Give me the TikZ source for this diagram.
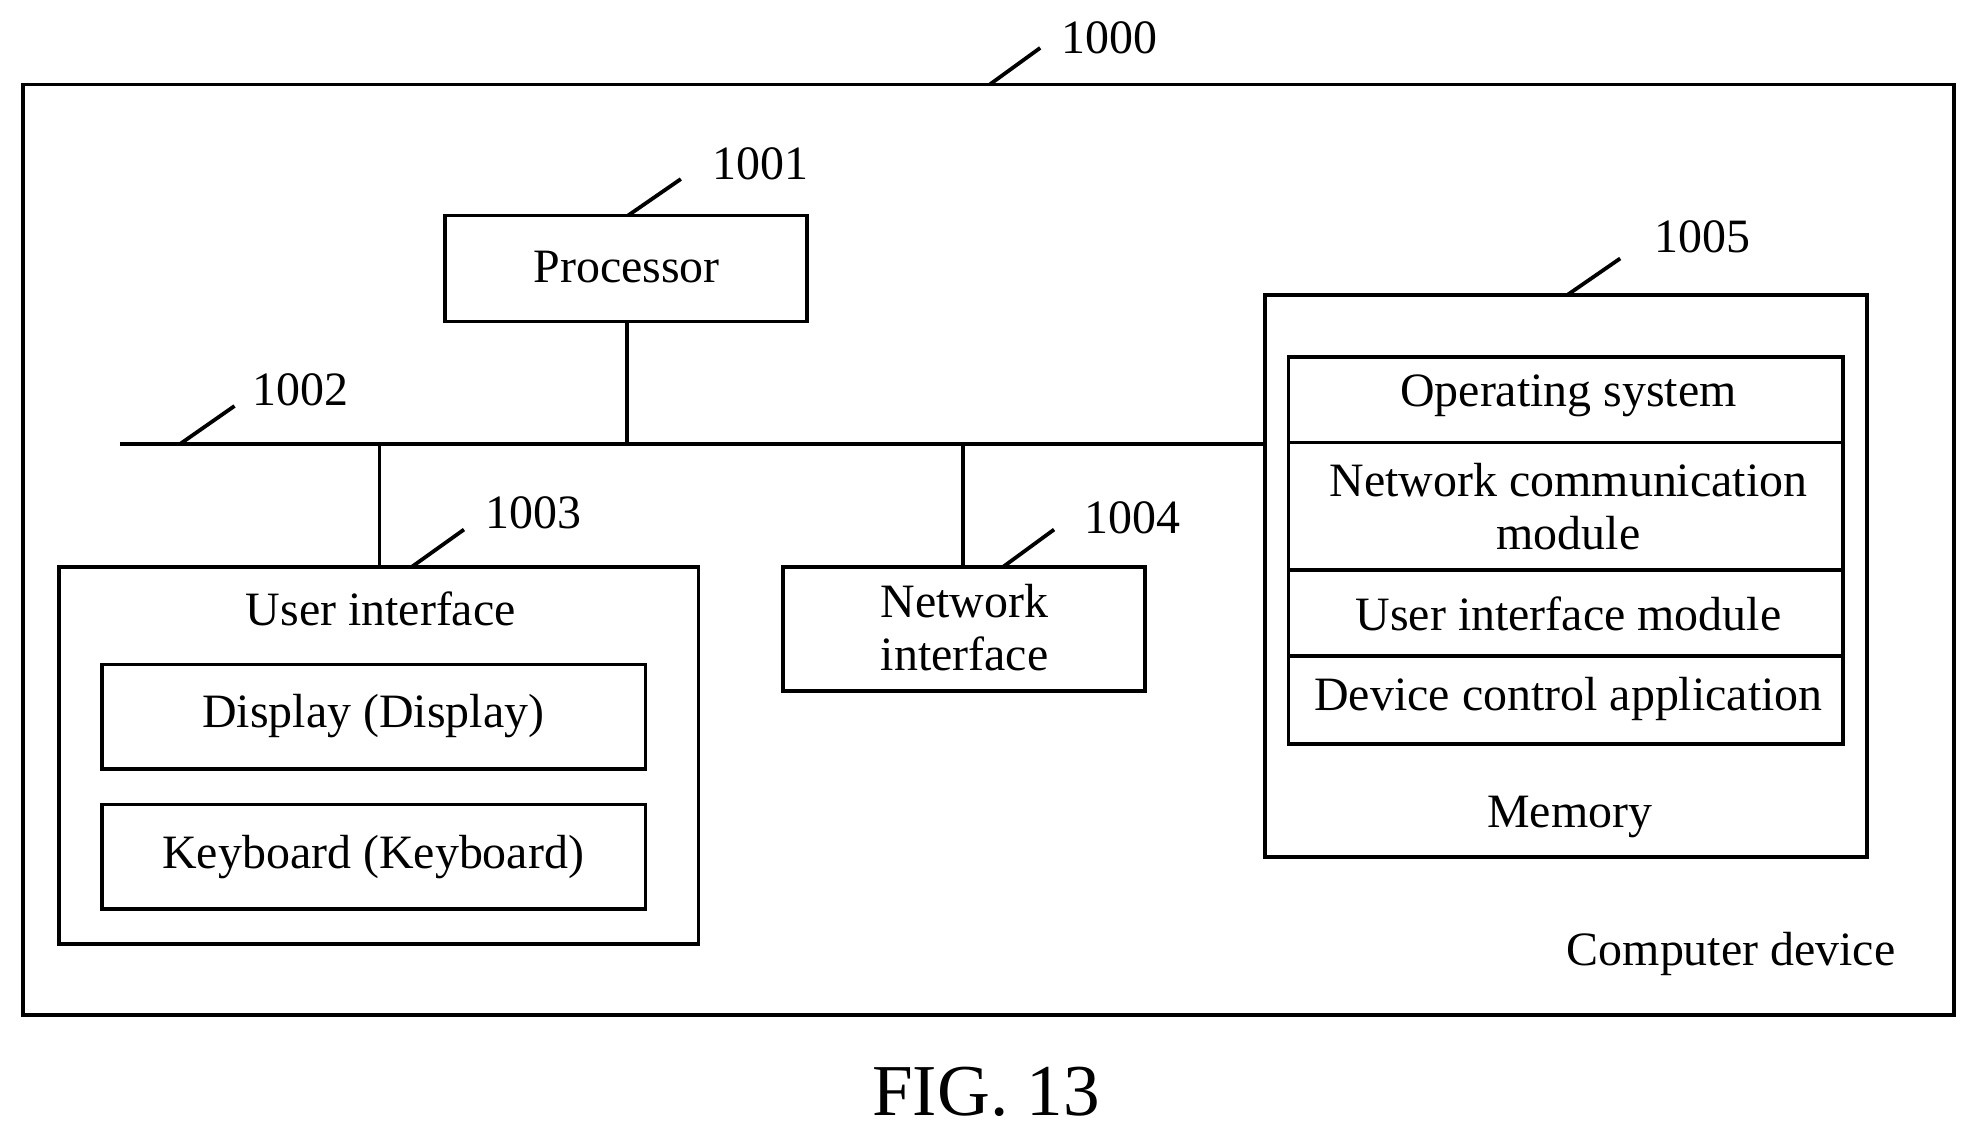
\documentclass[tikz,border=0pt]{standalone}
\usepackage{fontspec}
\setmainfont{Liberation Serif}
\begin{document}
\begin{tikzpicture}[x=0.5pt,y=-0.5pt,line width=1.5pt,
  box/.style={draw,line width=1.5pt},
  txt/.style={font=\fontsize{19}{21}\selectfont,align=center,inner sep=0pt},
  lab/.style={font=\fontsize{19}{21}\selectfont,inner sep=0pt}]
\useasboundingbox (0,0) rectangle (1568,903);
% outer
\draw[box] (18,67) rectangle (1550,805);
\node[lab] (l1000) at (880,30) {1000};
\coordinate (a0) at (785,67); \coordinate (b0) at (825,38);
\draw (a0) -- (b0);
\node[txt] (cd) at (1373,757) {Computer device};
% processor
\draw[box] (353,171) rectangle (640,255);
\node[txt] (proc) at (497,212) {Processor};
\node[lab] (l1001) at (603,130) {1001};
\coordinate (a1) at (498,171); \coordinate (b1) at (540,142);
\draw (a1) -- (b1);
% bus
\coordinate (bs) at (95,352); \coordinate (be) at (1003,352);
\draw (bs) -- (be);
\node[lab] (l1002) at (238,309) {1002};
\coordinate (a2) at (143,352); \coordinate (b2) at (186,322);
\draw (a2) -- (b2);
\coordinate (p1) at (497,255); \coordinate (p2) at (497,352);
\draw (p1) -- (p2);
% user interface
\draw[box] (47,450) rectangle (554,749);
\coordinate (u1) at (301,352); \coordinate (u2) at (301,450);
\draw (u1) -- (u2);
\node[lab] (l1003) at (423,407) {1003};
\coordinate (a3) at (326,450); \coordinate (b3) at (368,420);
\draw (a3) -- (b3);
\node[txt] (ui) at (302,483) {User interface};
\draw[box] (81,527) rectangle (512,610);
\node[txt] (disp) at (296,568) {Display (Display)};
\draw[box] (81,638) rectangle (512,721);
\node[txt] (kb) at (296,680) {Keyboard (Keyboard)};
% network interface
\draw[box] (621,450) rectangle (908,548);
\coordinate (n1) at (764,352); \coordinate (n2) at (764,450);
\draw (n1) -- (n2);
\node[lab] (l1004) at (898,411) {1004};
\coordinate (a4) at (795,450); \coordinate (b4) at (836,420);
\draw (a4) -- (b4);
\node[txt] (ni) at (765,498) {Network\\interface};
% memory
\draw[box] (1003,234) rectangle (1481,680);
\node[lab] (l1005) at (1350,188) {1005};
\coordinate (a5) at (1243,234); \coordinate (b5) at (1285,205);
\draw (a5) -- (b5);
\draw[box] (1022,283) rectangle (1462,590);
\draw (1022,351) -- (1462,351);
\draw (1022,452) -- (1462,452);
\draw (1022,520) -- (1462,520);
\node[txt] (os) at (1244,314) {Operating system};
\node[txt] (ncm) at (1244,402) {Network communication\\module};
\node[txt] (uim) at (1244,487) {User interface module};
\node[txt] (dca) at (1244,554) {Device control application};
\node[txt] (mem) at (1245,648) {Memory};
% caption
\node[font=\fontsize{29}{32}\selectfont,inner sep=0pt] (fig) at (782,866) {FIG. 13};
\end{tikzpicture}
\end{document}
